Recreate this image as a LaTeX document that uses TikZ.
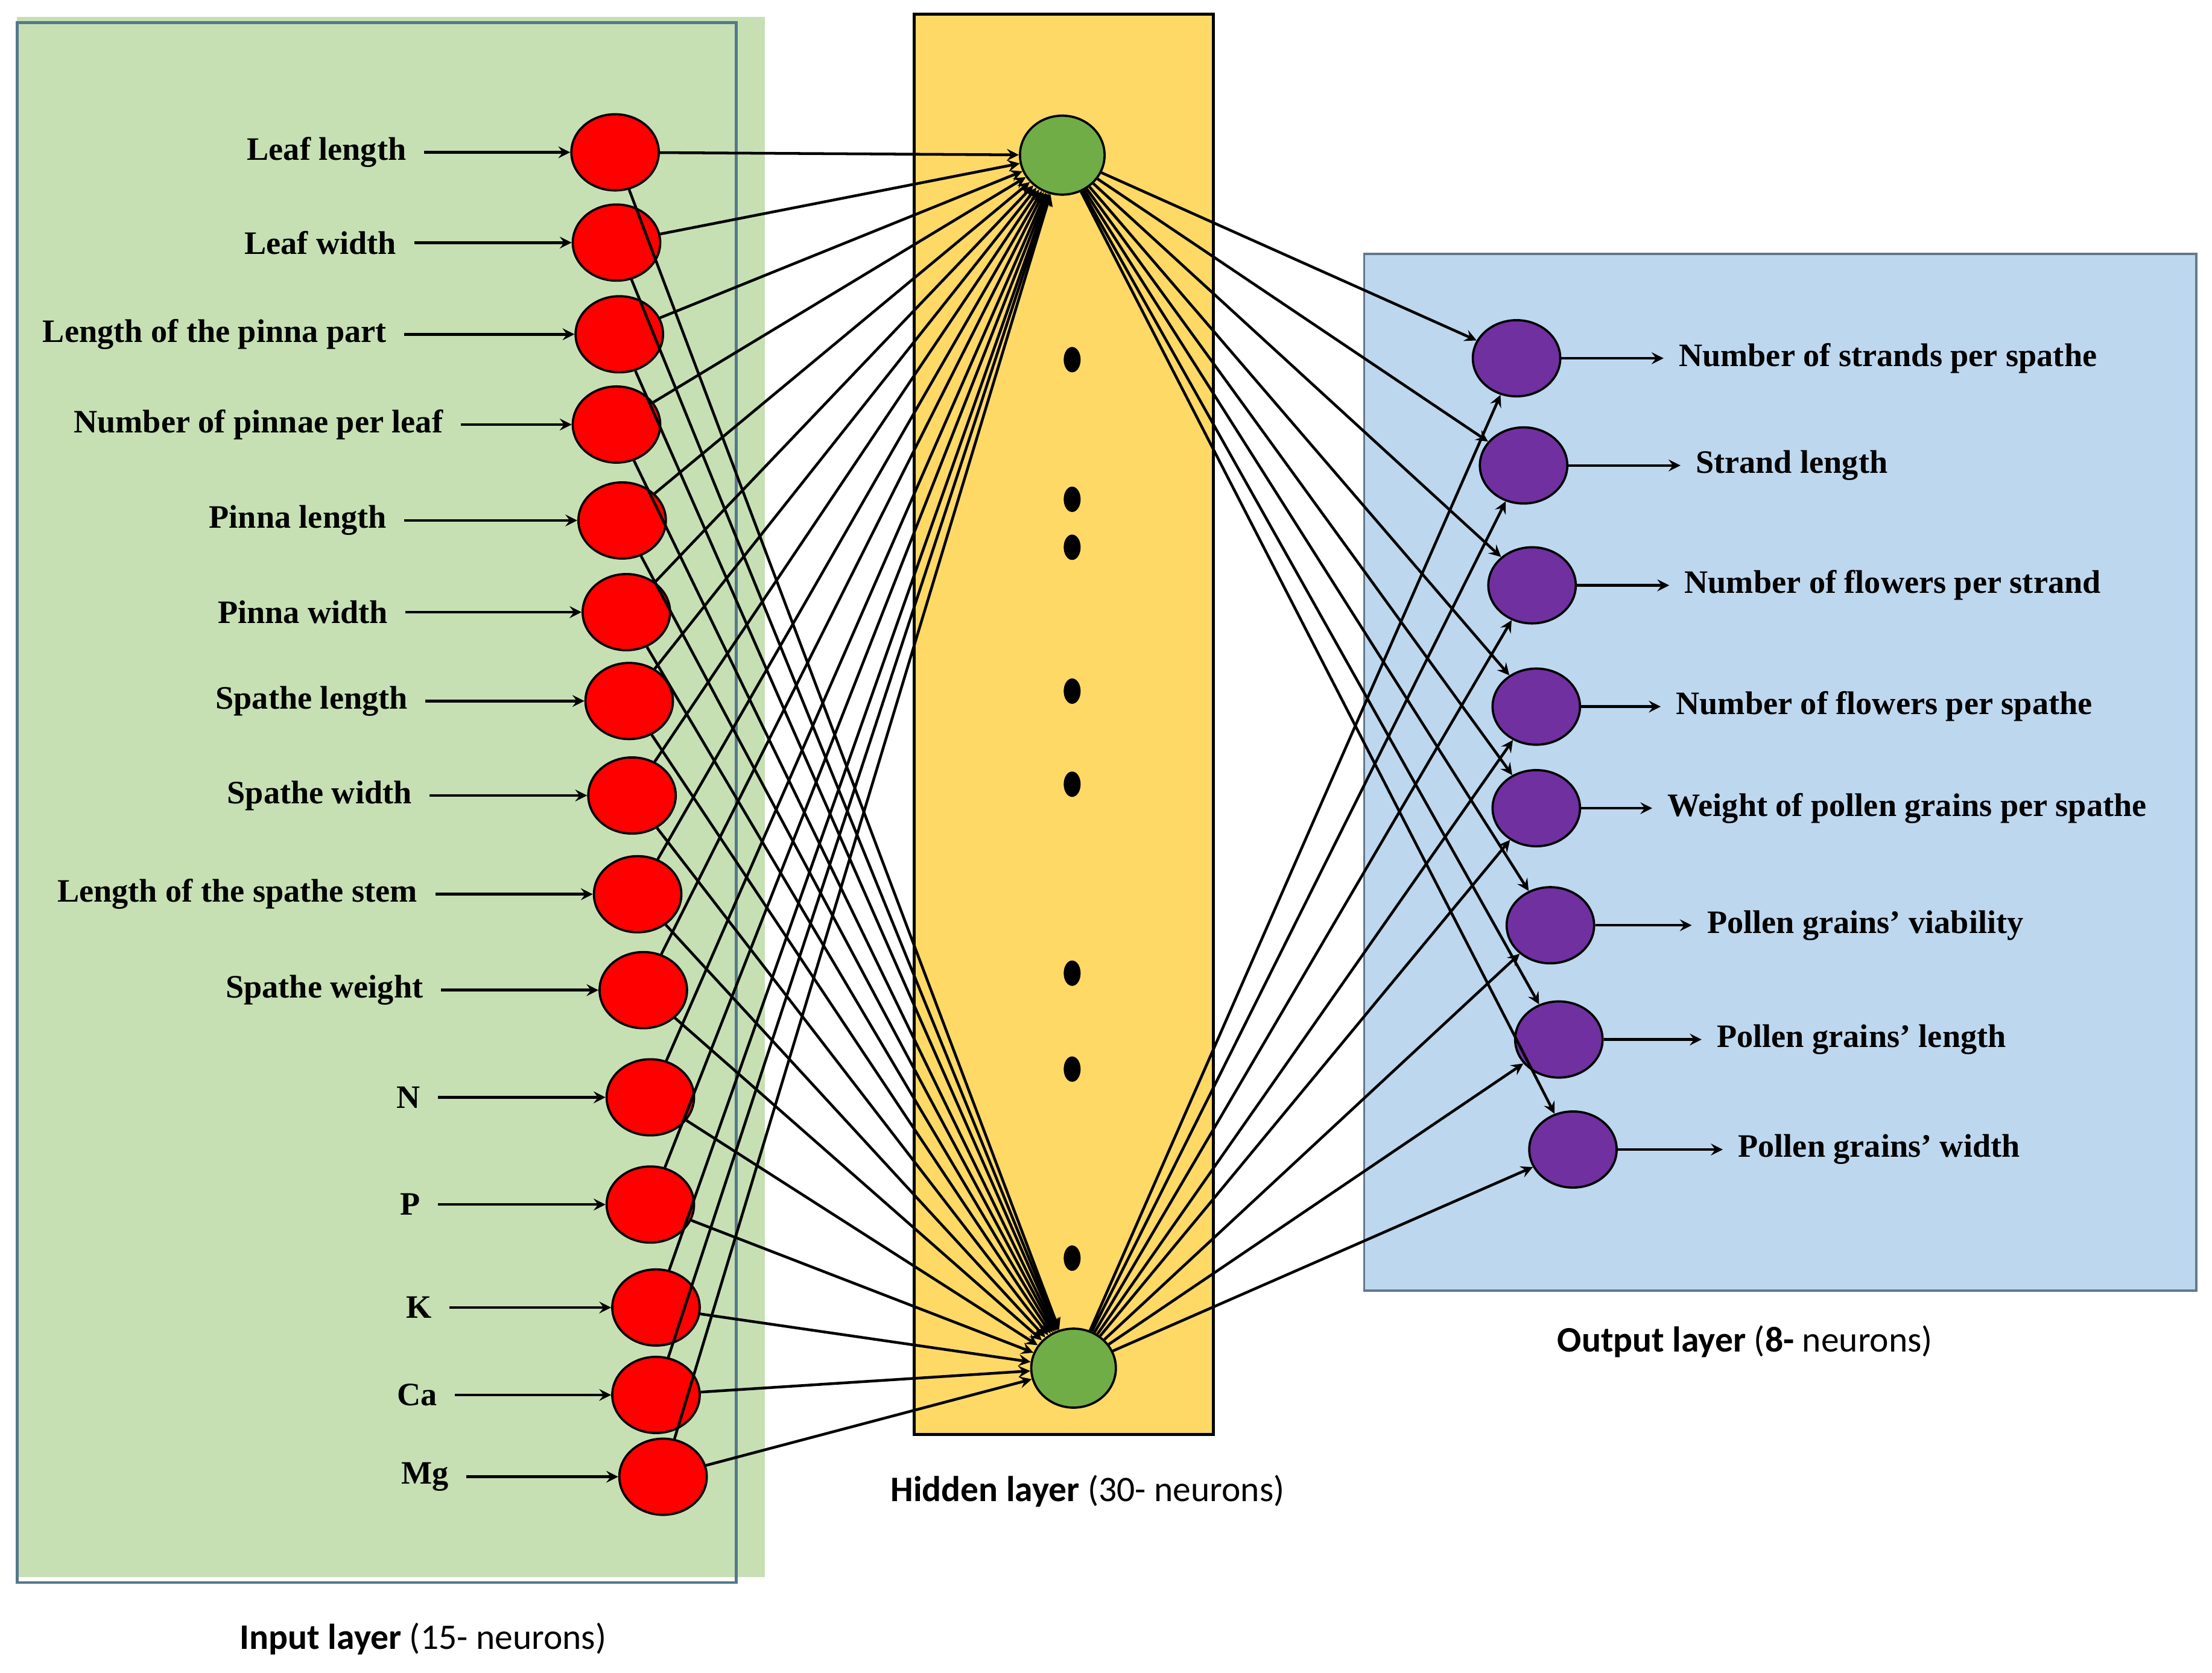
\documentclass[tikz,border=0pt]{standalone}
\usepackage{fontspec}
\setmainfont{Liberation Serif}
\newfontfamily\labsans{Carlito}
\usetikzlibrary{shapes, arrows, positioning}
\begin{document}
\begin{tikzpicture}[x=0.02cm, y=-0.02cm,
  neuron/.style={draw, ellipse, line width=0.9pt, minimum width=1.24cm, minimum height=1.08cm, inner sep=0pt},
  lab/.style={font=\fontsize{13.2}{15}\selectfont\bfseries, inner sep=1pt},
  link/.style={-stealth, line width=1.1pt},
  title/.style={font=\labsans\fontsize{14.5}{17}\selectfont}]
  \useasboundingbox (0,0) rectangle (1568,1186);
  % layer boxes
  \fill[fill={rgb,255:red,198;green,224;blue,180}] (12,12) rectangle (542,1118);
  \draw[draw={rgb,255:red,84;green,120;blue,140}, line width=1.2pt] (12,16) rectangle (522,1122);
  \draw[fill={rgb,255:red,255;green,217;blue,102}, line width=1.2pt] (648,10) rectangle (860,1017);
  \draw[fill={rgb,255:red,189;green,215;blue,238}, draw={rgb,255:red,100;green,120;blue,140}, line width=0.9pt] (967,180) rectangle (1557,915);

  % input layer
  \foreach \i/\x/\y/\lx/\txt in {1/436/108/290/Leaf length, 2/437/172/283/Leaf width,
      3/439/237/276/Length of the pinna part, 4/437/301/316/Number of pinnae per leaf,
      5/441/369/276/Pinna length, 6/444/434/277/Pinna width, 7/446/497/291/Spathe length,
      8/448/564/294/Spathe width, 9/452/634/298/Length of the spathe stem,
      10/456/702/302/Spathe weight, 11/461/778/300/N, 12/461/854/300/P,
      13/465/927/308/K, 14/465/989/312/Ca, 15/470/1047/320/Mg} {
    \node[neuron, fill=red] (in\i) at (\x,\y) {};
    \node[lab, anchor=east] (il\i) at (\lx,\y) {\txt};
    \draw[link, shorten <=6pt] (il\i.east) -- (in\i.west);
  }

  % hidden layer
  \node[neuron, fill={rgb,255:red,112;green,173;blue,71}, minimum width=1.2cm, minimum height=1.12cm] (hid1) at (753,110) {};
  \node[neuron, fill={rgb,255:red,112;green,173;blue,71}, minimum width=1.2cm, minimum height=1.12cm] (hid2) at (761,970) {};
  \foreach \y in {255,354,388,490,556,690,758,892}
    \fill (760,\y) ellipse (6 and 9);

  % output layer
  \foreach \i/\x/\y/\lx/\txt in {1/1075/254/1188/Number of strands per spathe,
      2/1080/330/1200/Strand length, 3/1086/415/1192/Number of flowers per strand,
      4/1089/501/1186/Number of flowers per spathe,
      5/1089/573/1180/Weight of pollen grains per spathe,
      6/1099/656/1208/Pollen grains' viability, 7/1105/737/1215/Pollen grains' length,
      8/1115/815/1230/Pollen grains' width} {
    \node[neuron, fill={rgb,255:red,112;green,48;blue,160}] (out\i) at (\x,\y) {};
    \node[lab, anchor=west] (ol\i) at (\lx,\y) {\txt};
    \draw[link, shorten >=5pt] (out\i.east) -- (ol\i.west);
  }

  % connections
  \foreach \i in {1,...,15} {
    \draw[link] (in\i) -- (hid1);
    \draw[link] (in\i) -- (hid2);
  }
  \foreach \j in {1,...,8} {
    \draw[link] (hid1) -- (out\j);
    \draw[link] (hid2) -- (out\j);
  }

  % titles
  \node[title] (tin) at (300,1162) {\textbf{Input layer} (15- neurons)};
  \node[title] (thid) at (771,1057) {\textbf{Hidden layer} (30- neurons)};
  \node[title] (tout) at (1237,951) {\textbf{Output layer} (\textbf{8-} neurons)};
\end{tikzpicture}
\end{document}
